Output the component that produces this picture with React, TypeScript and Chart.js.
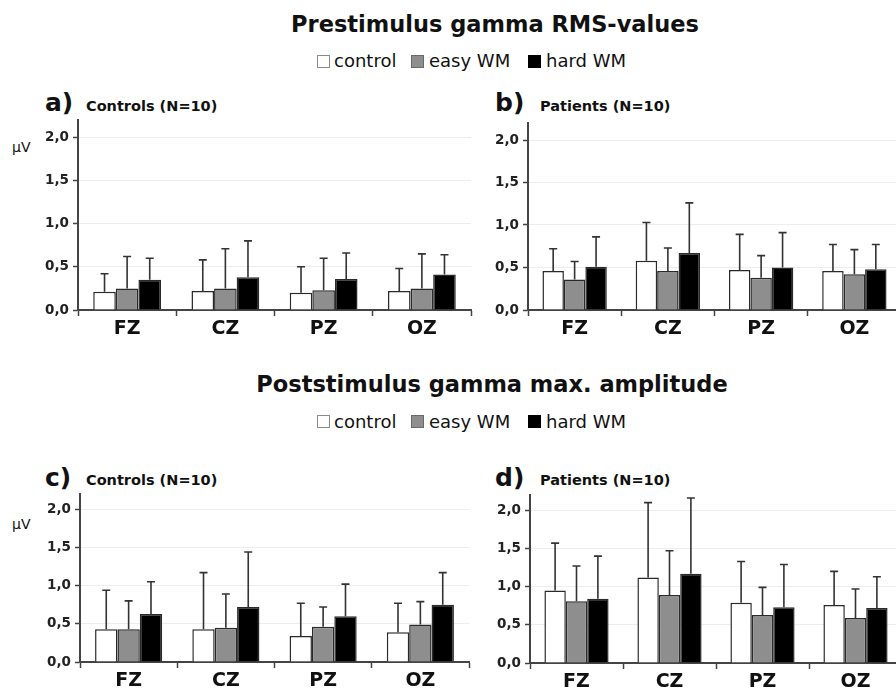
import React, { useEffect, useRef } from 'react';
import { Chart, registerables } from 'chart.js';

Chart.register(...registerables);

// ---------- data ----------
const categories = ['FZ', 'CZ', 'PZ', 'OZ'];
const seriesNames = ['control', 'easy WM', 'hard WM'];
const yTickValues = [0, 0.5, 1.0, 1.5, 2.0];
const yTickLabels = ['0,0', '0,5', '1,0', '1,5', '2,0'];

// a) Prestimulus, Controls
const aControl = [0.21, 0.22, 0.20, 0.22];
const aControlErr = [0.21, 0.36, 0.30, 0.26];
const aEasy = [0.25, 0.25, 0.23, 0.25];
const aEasyErr = [0.37, 0.46, 0.37, 0.40];
const aHard = [0.35, 0.38, 0.36, 0.41];
const aHardErr = [0.25, 0.42, 0.30, 0.23];

// b) Prestimulus, Patients
const bControl = [0.46, 0.58, 0.47, 0.46];
const bControlErr = [0.26, 0.45, 0.42, 0.31];
const bEasy = [0.36, 0.46, 0.38, 0.42];
const bEasyErr = [0.21, 0.27, 0.26, 0.29];
const bHard = [0.51, 0.67, 0.50, 0.48];
const bHardErr = [0.35, 0.59, 0.41, 0.29];

// c) Poststimulus, Controls
const cControl = [0.43, 0.43, 0.34, 0.39];
const cControlErr = [0.51, 0.74, 0.43, 0.38];
const cEasy = [0.43, 0.45, 0.46, 0.49];
const cEasyErr = [0.37, 0.44, 0.26, 0.30];
const cHard = [0.63, 0.72, 0.60, 0.75];
const cHardErr = [0.42, 0.72, 0.42, 0.42];

// d) Poststimulus, Patients
const dControl = [0.95, 1.12, 0.79, 0.76];
const dControlErr = [0.62, 0.98, 0.54, 0.44];
const dEasy = [0.81, 0.89, 0.63, 0.59];
const dEasyErr = [0.46, 0.58, 0.36, 0.38];
const dHard = [0.84, 1.17, 0.73, 0.72];
const dHardErr = [0.56, 0.99, 0.56, 0.41];

// ---------- styling ----------
const FONT = "'DejaVu Sans', 'Liberation Sans', Arial, sans-serif";
const fills = ['#ffffff', '#8e8e8e', '#000000'];
const AXIS = '#444444';

const errorBarPlugin = {
  id: 'errorBars',
  afterDatasetsDraw(chart: any) {
    const ctx = chart.ctx;
    const y = chart.scales.y;
    chart.data.datasets.forEach((ds: any, i: number) => {
      const meta = chart.getDatasetMeta(i);
      meta.data.forEach((bar: any, j: number) => {
        const top = y.getPixelForValue(ds.data[j] + ds.errors[j]);
        ctx.save();
        ctx.strokeStyle = '#333333';
        ctx.lineWidth = 1.6;
        ctx.beginPath();
        ctx.moveTo(bar.x, bar.y);
        ctx.lineTo(bar.x, top);
        ctx.moveTo(bar.x - 4, top);
        ctx.lineTo(bar.x + 4, top);
        ctx.stroke();
        ctx.restore();
      });
    });
  },
};

type PanelProps = {
  left: number; top: number; width: number; height: number;
  yWidth: number; xHeight: number; padTop: number; padRight: number;
  series: number[][]; errors: number[][];
};

function Panel(p: PanelProps) {
  const ref = useRef<HTMLCanvasElement | null>(null);
  useEffect(() => {
    if (!ref.current) return;
    const chart = new Chart(ref.current, {
      type: 'bar',
      data: {
        labels: categories,
        datasets: seriesNames.map((name, i) => ({
          label: name,
          data: p.series[i],
          errors: p.errors[i],
          backgroundColor: fills[i],
          borderColor: '#2a2a2a',
          borderWidth: 1.5,
          categoryPercentage: 0.69,
          barPercentage: 1.0,
        })) as any,
      },
      options: {
        animation: false,
        responsive: false,
        maintainAspectRatio: false,
        layout: { padding: { top: p.padTop, right: p.padRight, left: 0, bottom: 0 } },
        plugins: { legend: { display: false }, tooltip: { enabled: false }, title: { display: false } },
        scales: {
          x: {
            offset: true,
            grid: { display: true, drawOnChartArea: false, offset: true, tickLength: 6, tickColor: AXIS, tickWidth: 1.5 },
            border: { display: true, color: AXIS, width: 2 },
            ticks: { font: { family: FONT, size: 19, weight: 'bold' }, color: '#111', padding: 2, maxRotation: 0 },
            afterFit: (s: any) => { s.height = p.xHeight; },
          },
          y: {
            min: 0,
            max: 2.2,
            afterBuildTicks: (s: any) => { s.ticks = yTickValues.map((v) => ({ value: v })); },
            ticks: {
              font: { family: FONT, size: 13.5, weight: 'bold' },
              color: '#222',
              padding: 4,
              callback: (v: any) => {
                const k = yTickValues.indexOf(Number(v));
                return k >= 0 ? yTickLabels[k] : '';
              },
            },
            grid: {
              color: (c: any) => (c.tick && c.tick.value === 0 ? 'rgba(0,0,0,0)' : '#ededed'),
              tickColor: AXIS,
              tickLength: 5,
              tickWidth: 1.5,
              lineWidth: 1,
            },
            border: { display: true, color: AXIS, width: 2 },
            afterFit: (s: any) => { s.width = p.yWidth; },
          },
        },
      },
      plugins: [errorBarPlugin],
    } as any);
    return () => chart.destroy();
  }, []);
  return (
    <canvas
      ref={ref}
      width={p.width}
      height={p.height}
      style={{ position: 'absolute', left: p.left, top: p.top, width: p.width, height: p.height, display: 'block' }}
    />
  );
}

function Txt(props: { x: number; base: number; size: number; bold?: boolean; children: React.ReactNode; center?: boolean }) {
  const top = props.base - 0.846 * props.size;
  return (
    <div
      style={{
        position: 'absolute',
        left: props.center ? props.x - 400 : props.x,
        width: props.center ? 800 : undefined,
        textAlign: props.center ? 'center' : 'left',
        top,
        fontFamily: FONT,
        fontSize: props.size,
        fontWeight: props.bold ? 'bold' : 'normal',
        lineHeight: 1,
        whiteSpace: 'nowrap',
        color: '#111',
      }}
    >
      {props.children}
    </div>
  );
}

function Legend(props: { top: number; base: number }) {
  const boxes = [
    { x: 317, fill: '#ffffff', border: '#8a8a8a' },
    { x: 411, fill: '#8e8e8e', border: '#6a6a6a' },
    { x: 528, fill: '#000000', border: '#000000' },
  ];
  const texts = [334, 429, 546];
  return (
    <>
      {boxes.map((b, i) => (
        <div
          key={'b' + i}
          style={{
            position: 'absolute', left: b.x, top: props.top, width: 11, height: 11,
            background: b.fill, border: `1.5px solid ${b.border}`,
          }}
        />
      ))}
      {seriesNames.map((n, i) => (
        <Txt key={'t' + i} x={texts[i]} base={props.base} size={18}>{n}</Txt>
      ))}
    </>
  );
}

export default function App() {
  return (
    <div style={{ position: 'absolute', left: 0, top: 0, width: 896, height: 694, overflow: 'hidden', background: '#fff' }}>
      <Txt x={495} base={32} size={22.5} bold center>Prestimulus gamma RMS-values</Txt>
      <Legend top={55} base={67} />
      <Txt x={492} base={392} size={22.5} bold center>Poststimulus gamma max. amplitude</Txt>
      <Legend top={415} base={428} />

      <Txt x={45} base={111} size={25} bold>a)</Txt>
      <Txt x={86} base={111} size={14.5} bold>Controls (N=10)</Txt>
      <Txt x={495} base={111} size={25} bold>b)</Txt>
      <Txt x={540} base={111} size={14.5} bold>Patients (N=10)</Txt>
      <Txt x={45} base={486} size={25} bold>c)</Txt>
      <Txt x={86} base={485} size={14.5} bold>Controls (N=10)</Txt>
      <Txt x={495} base={486} size={25} bold>d)</Txt>
      <Txt x={540} base={485} size={14.5} bold>Patients (N=10)</Txt>

      <Txt x={12} base={152} size={14}>μV</Txt>
      <Txt x={12} base={529} size={14}>μV</Txt>

      <Panel left={0} top={100} width={480} height={250} yWidth={78} xHeight={40} padTop={20} padRight={9}
        series={[aControl, aEasy, aHard]} errors={[aControlErr, aEasyErr, aHardErr]} />
      <Panel left={450} top={100} width={470} height={250} yWidth={78} xHeight={40} padTop={23} padRight={19}
        series={[bControl, bEasy, bHard]} errors={[bControlErr, bEasyErr, bHardErr]} />
      <Panel left={0} top={470} width={480} height={224} yWidth={80} xHeight={32} padTop={24} padRight={11}
        series={[cControl, cEasy, cHard]} errors={[cControlErr, cEasyErr, cHardErr]} />
      <Panel left={450} top={470} width={470} height={224} yWidth={80} xHeight={31} padTop={25} padRight={18}
        series={[dControl, dEasy, dHard]} errors={[dControlErr, dEasyErr, dHardErr]} />
    </div>
  );
}
